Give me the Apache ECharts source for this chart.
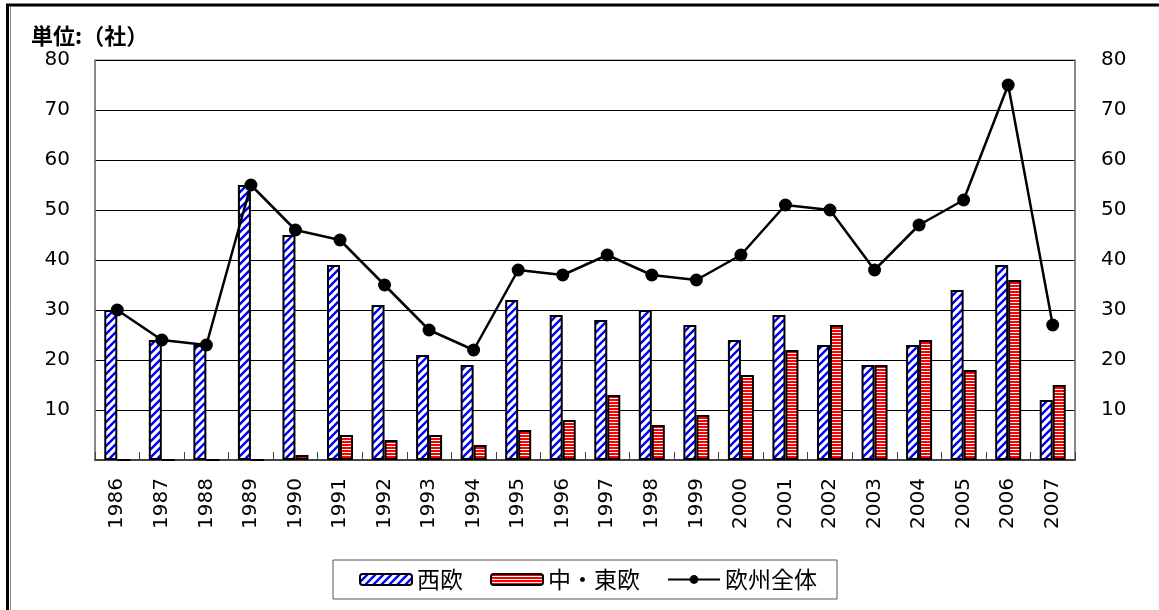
<!DOCTYPE html>
<html><head><meta charset="utf-8">
<script src="https://cdn.jsdelivr.net/npm/echarts@6/dist/echarts.min.js"></script>
<style>html,body{margin:0;padding:0;background:#fff}#c{width:1159px;height:610px}</style>
</head><body><div id="c"></div>
<script>
const years = ['1986','1987','1988','1989','1990','1991','1992','1993','1994','1995','1996','1997','1998','1999','2000','2001','2002','2003','2004','2005','2006','2007'];
const westEurope = [30,24,23,55,45,39,31,21,19,32,29,28,30,27,24,29,23,19,23,34,39,12];
const centralEastEurope = [0,0,0,0,1,5,4,5,3,6,8,13,7,9,17,22,27,19,24,18,36,15];
const europeTotal = [30,24,23,55,46,44,35,26,22,38,37,41,37,36,41,51,50,38,47,52,75,27];
const seriesNames = ['西欧','中・東欧','欧州全体'];
const unitLabel = '単位:（社）';

function hatchPattern(){
  const c=document.createElement('canvas');c.width=8;c.height=8;
  const g=c.getContext('2d');g.fillStyle='#fff';g.fillRect(0,0,8,8);
  g.strokeStyle='#0000ff';g.lineWidth=2.4;g.beginPath();
  g.moveTo(-2,10);g.lineTo(10,-2);g.moveTo(-6,6);g.lineTo(6,-6);g.moveTo(2,14);g.lineTo(14,2);g.stroke();
  return c;
}
function stripePattern(){
  const c=document.createElement('canvas');c.width=4;c.height=3;
  const g=c.getContext('2d');g.fillStyle='#ff0000';g.fillRect(0,0,4,3);
  g.fillStyle='#ffffff';g.fillRect(0,2,4,1);
  return c;
}
const numFont='DejaVu Sans';
const jpFont='Noto Sans CJK JP';
const chart=echarts.init(document.getElementById('c'),null,{renderer:'canvas'});
const yLabel={fontFamily:numFont,fontSize:20,color:'#000',formatter:v=>v===0?'':String(v)};
chart.setOption({
  animation:false,
  backgroundColor:'#fff',
  title:{text:unitLabel,left:26,top:20,textStyle:{fontFamily:jpFont,fontSize:22,fontWeight:'bold',color:'#000'}},
  graphic:[
    {type:'line',shape:{x1:6,y1:5,x2:1159,y2:5},style:{stroke:'#000',lineWidth:3}},
    {type:'line',shape:{x1:7.5,y1:4,x2:7.5,y2:610},style:{stroke:'#000',lineWidth:3}},
    {type:'line',shape:{x1:10.5,y1:7,x2:10.5,y2:610},style:{stroke:'#888',lineWidth:1}}
  ],
  grid:{left:95,right:84,top:60,bottom:150,show:true,borderColor:'#777',borderWidth:1},
  legend:{left:333,top:560,itemWidth:52,itemHeight:11,itemGap:27,borderColor:'#555',borderWidth:1,
    padding:[8,20,8,26],textStyle:{fontFamily:jpFont,fontSize:23,color:'#000'},data:seriesNames},
  xAxis:{type:'category',data:years,boundaryGap:true,
    axisLine:{lineStyle:{color:'#444',width:2}},
    axisTick:{show:true,inside:true,length:8,lineStyle:{color:'#444'}},
    axisLabel:{rotate:90,margin:18,fontFamily:numFont,fontSize:20,color:'#000',interval:0}},
  yAxis:[
    {type:'value',min:0,max:80,interval:10,position:'left',
     axisLine:{show:true,lineStyle:{color:'#777',width:1.5}},axisTick:{show:false},
     axisLabel:Object.assign({margin:25},yLabel),
     splitLine:{lineStyle:{color:'#000',width:1}}},
    {type:'value',min:0,max:80,interval:10,position:'right',
     axisLine:{show:true,lineStyle:{color:'#777',width:1.5}},axisTick:{show:false},
     axisLabel:Object.assign({margin:26},yLabel),
     splitLine:{show:false}}
  ],
  series:[
    {name:seriesNames[0],type:'bar',data:westEurope,barWidth:13,barGap:'0%',
     itemStyle:{color:{image:hatchPattern(),repeat:'repeat'},borderColor:'#000',borderWidth:2}},
    {name:seriesNames[1],type:'bar',data:centralEastEurope,barWidth:13,barGap:'0%',
     itemStyle:{color:{image:stripePattern(),repeat:'repeat'},borderColor:'#000',borderWidth:2}},
    {name:seriesNames[2],type:'line',yAxisIndex:1,data:europeTotal,symbol:'circle',symbolSize:13,
     lineStyle:{color:'#000',width:2.5},itemStyle:{color:'#000'}}
  ]
});
</script></body></html>
